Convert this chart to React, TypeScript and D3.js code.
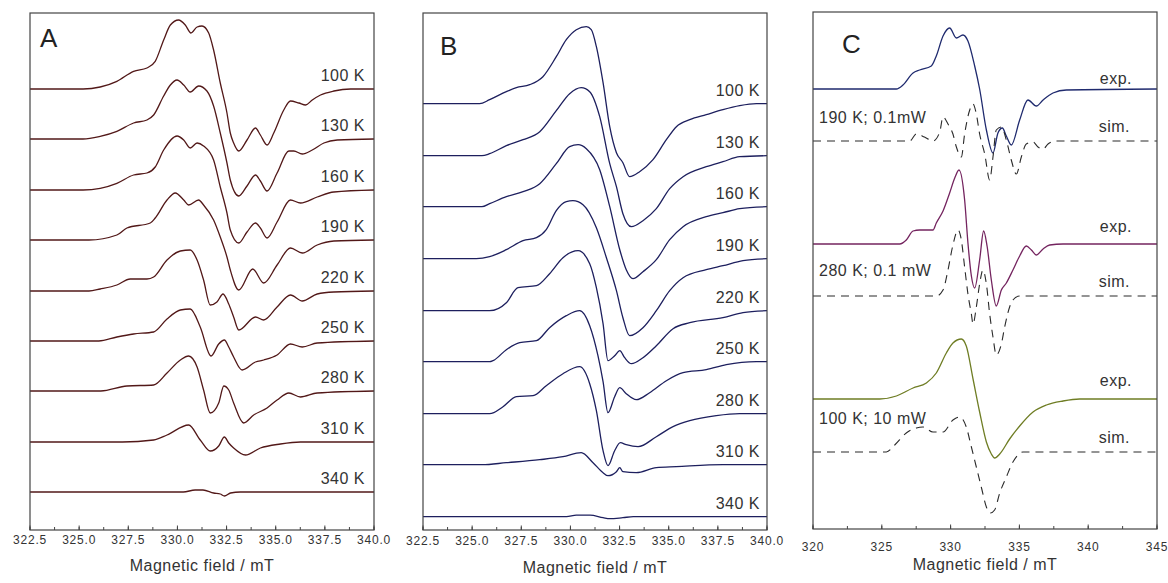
import React from "react";
import * as d3 from "d3";

type Pt = [number, number];

// x: magnetic field (mT), y: derivative amplitude relative to baseline (a.u.)

// ---- panel A ----
const tempsA = ["100 K", "130 K", "160 K", "190 K", "220 K", "250 K", "280 K", "310 K", "340 K"];
const offsetsA = [403, 353, 302, 252, 201, 151, 101, 50, 0];

const a100: Pt[] = [[322.5,0],[325.2,0],[326.07,2],[326.92,7.7],[327.77,17.7],[328.45,21],[328.87,27.7],[329.3,49],[329.64,64],[330.06,69],[330.4,64],[330.69,56],[331.0,62],[331.25,63],[331.59,56],[331.84,39],[332.18,6],[332.52,-24],[332.69,-44],[332.86,-54],[333.12,-62],[333.54,-51],[333.97,-39],[334.22,-46],[334.56,-56],[334.9,-44],[335.41,-21],[335.75,-12],[336.18,-14],[336.52,-16],[336.86,-11],[337.28,-6],[337.96,-2],[338.81,0],[340,0]];
const a130: Pt[] = [[322.5,0],[325.2,0],[326.07,2.7],[326.92,7.7],[327.77,16],[328.45,19],[328.79,24],[329.3,43],[329.64,54],[329.98,59],[330.32,54],[330.65,47],[331.08,53],[331.5,48],[331.84,33],[332.18,6],[332.52,-24],[332.69,-41],[333.12,-57],[333.54,-47],[333.97,-36],[334.22,-42],[334.56,-52],[335.07,-34],[335.67,-12],[335.92,-12],[336.35,-15],[336.86,-11],[337.45,-4],[338.13,-1],[340,0]];
const a160: Pt[] = [[322.5,0],[325.2,0],[326.07,1.7],[326.92,6.7],[327.77,15],[328.45,17],[328.87,23],[329.3,40],[329.98,54],[330.32,50],[330.65,42],[331.0,47],[331.33,44],[331.84,30],[332.18,3],[332.52,-23],[332.69,-40],[333.12,-53],[333.54,-42],[333.97,-33],[334.22,-38],[334.56,-48],[335.07,-32],[335.75,-10],[336.26,-13],[337.11,-7],[337.96,-2],[340,0]];
const a190: Pt[] = [[322.5,0],[325.5,0],[326.92,5],[327.43,12],[328.62,17],[328.87,22],[329.47,40],[329.89,47],[330.32,40],[330.57,35],[331.08,40],[331.33,35],[331.84,20],[332.18,3],[332.52,-17],[332.69,-30],[333.12,-50],[333.83,-29],[334.39,-43],[335.07,-25],[335.75,-8],[336.35,-13],[337.11,-5],[337.96,-1],[340,0]];
const a220: Pt[] = [[322.5,0],[325.5,0],[326.07,2],[326.92,6],[327.6,12],[328.45,12],[328.79,14],[329.47,31],[330.15,40],[330.65,41],[331.0,31],[331.33,11],[331.67,-14],[332.01,-11],[332.32,-3],[332.61,-13],[332.86,-26],[333.12,-39],[333.97,-26],[334.39,-29],[335.07,-16],[335.75,-4],[336.35,-10],[337.11,-3],[337.96,-1],[340,0]];
const a250: Pt[] = [[322.5,0],[326.0,0],[326.92,4],[327.77,7],[328.79,9],[329.47,22],[330.15,31],[330.65,32],[331.16,14],[331.71,-15],[332.1,-3],[332.39,1],[332.61,-6],[332.86,-16],[333.29,-29],[333.97,-21],[334.39,-19],[335.07,-14],[335.75,-3],[336.35,-6],[337.11,-2],[340,0]];
const a280: Pt[] = [[322.5,0],[326.1,0],[327.43,5],[328.79,6],[329.47,18],[330.15,31],[330.57,35],[331.0,24],[331.33,1],[331.67,-22],[332.1,-12],[332.36,5],[332.61,1],[332.86,-12],[333.37,-32],[333.88,-24],[334.56,-17],[335.07,-9],[335.67,-2],[336.26,-6],[337.11,-2],[340,0]];
const a310: Pt[] = [[322.5,0],[327.2,0],[328.79,2],[329.47,7],[330.57,17],[331.16,2],[331.67,-9],[332.1,-4],[332.39,5],[332.61,-1],[332.86,-6],[333.46,-13],[334.22,-6],[335.24,-2],[336.26,0],[340,0]];
const a340: Pt[] = [[322.5,0],[330.3,0],[330.9,2],[331.3,2],[331.84,-1],[332.18,-2],[332.39,-4],[332.7,-1],[333.2,0],[340,0]];
const spectraA = [a100, a130, a160, a190, a220, a250, a280, a310, a340];

// ---- panel B ----
const tempsB = ["100 K", "130 K", "160 K", "190 K", "220 K", "250 K", "280 K", "310 K", "340 K"];
const offsetsB = [413, 361, 310, 258, 206, 155, 103, 52, 0];

const b100: Pt[] = [[322.5,0],[325.38,0],[325.89,4],[326.74,12],[327.25,16],[327.93,19],[328.6,27],[329.28,47],[329.79,64],[330.3,74],[330.81,77],[331.06,74],[331.32,57],[331.66,21],[332.0,-23],[332.34,-49],[332.67,-59],[333.01,-73],[333.52,-68],[334.2,-56],[334.88,-36],[335.39,-23],[336.07,-16],[336.91,-11],[337.76,-6],[338.61,-2],[339.46,0],[340,0]];
const b130: Pt[] = [[322.5,0],[325.5,0],[325.89,2],[326.74,10],[327.59,16],[328.44,24],[329.28,45],[329.96,62],[330.55,68],[330.98,64],[331.49,39],[332.0,-8],[332.34,-31],[332.67,-58],[333.1,-71],[333.69,-65],[334.37,-53],[335.05,-33],[335.73,-21],[336.91,-11],[337.76,-6],[338.61,-1],[340,0]];
const b160: Pt[] = [[322.5,0],[325.5,0],[325.89,3],[326.74,10],[327.59,15],[328.44,23],[329.28,43],[329.96,60],[330.39,62],[330.81,58],[331.49,37],[332.0,0],[332.51,-43],[332.84,-63],[333.18,-72],[333.69,-65],[334.37,-53],[335.05,-33],[335.73,-20],[336.91,-10],[337.76,-6],[338.61,-2],[340,0]];
const b190: Pt[] = [[322.5,0],[325.21,0],[325.89,2],[326.74,9],[327.59,18],[328.27,21],[328.77,29],[329.28,48],[329.79,57],[330.13,58],[330.64,54],[331.32,31],[331.83,1],[332.34,-32],[332.67,-59],[333.01,-77],[333.69,-69],[334.37,-52],[335.05,-32],[335.73,-19],[336.91,-11],[337.76,-7],[338.78,-2],[340,0]];
const b220: Pt[] = [[322.5,0],[325.89,0],[326.74,8],[327.33,23],[328.27,25],[328.94,37],[329.62,53],[330.39,60],[330.98,47],[331.32,23],[331.66,-13],[331.91,-50],[332.25,-45],[332.51,-40],[332.76,-47],[333.1,-53],[333.69,-47],[334.37,-35],[335.22,-18],[336.07,-12],[337.76,-7],[338.78,-2],[340,0]];
const b250: Pt[] = [[322.5,0],[325.89,0],[326.06,1],[326.74,12],[327.42,19],[328.27,21],[328.94,34],[329.79,46],[330.47,51],[330.98,36],[331.4,6],[331.66,-20],[331.91,-51],[332.25,-35],[332.51,-26],[332.84,-32],[333.35,-38],[334.03,-31],[334.88,-19],[335.73,-11],[336.91,-8],[337.93,-3],[339.46,0],[340,0]];
const b280: Pt[] = [[322.5,0],[325.89,0],[326.57,7],[327.25,17],[328.1,18],[328.77,28],[329.62,40],[330.47,47],[330.98,30],[331.32,3],[331.66,-37],[331.91,-52],[332.25,-37],[332.54,-29],[332.84,-31],[333.44,-33],[334.37,-23],[335.22,-13],[336.07,-7],[337.42,-2],[338.61,0],[340,0]];
const b310: Pt[] = [[322.5,0],[325.5,0],[326.74,2],[328.44,5],[329.62,8],[330.55,12],[331.15,2],[331.66,-8],[331.91,-11],[332.34,-7],[332.51,-3],[332.67,-7],[333.35,-8],[334.37,-3],[335.39,-2],[337.76,0],[340,0]];
const b340: Pt[] = [[322.5,0],[329.8,0],[330.3,1.5],[331.0,1.5],[331.66,-1],[332.0,-2],[332.67,-1],[333.2,0],[340,0]];
const spectraB = [b100, b130, b160, b190, b220, b250, b280, b310, b340];

// ---- panel C ----
const conditionsC = ["190 K; 0.1mW", "280 K; 0.1 mW", "100 K; 10 mW"];
const offsetsExpC = [363, 208, 53];
const offsetsSimC = [311, 156, 0];

const exp190: Pt[] = [[320,0],[326.06,0],[326.54,4],[327.27,16],[327.75,19],[328.6,23],[328.96,33],[329.45,53],[329.93,61],[330.42,51],[330.9,54],[331.26,48],[331.75,23],[332.11,0],[332.6,-41],[333.08,-64],[333.44,-44],[333.76,-39],[334.05,-47],[334.41,-56],[335.02,-31],[335.62,-11],[336.23,-17],[336.72,-11],[337.44,-4],[338.41,-1],[345,0]];
const sim190: Pt[] = [[320,0],[327.03,0],[327.51,7],[328.1,4],[328.72,0],[329.21,9],[329.45,24],[329.81,17],[330.17,7],[330.42,-6],[330.78,-16],[331.02,7],[331.39,31],[331.63,37],[331.87,27],[332.11,7],[332.48,-13],[332.84,-39],[333.08,-16],[333.32,11],[333.69,14],[334.05,1],[334.41,-19],[334.78,-33],[335.14,-16],[335.5,-3],[335.99,-1],[336.35,-6],[336.72,-8],[337.08,-3],[337.68,0],[345,0]];
const exp280: Pt[] = [[320,0],[326.3,0],[326.78,4],[327.27,13],[327.75,14],[328.72,14],[328.96,21],[329.45,33],[329.93,51],[330.3,66],[330.61,74],[331.02,44],[331.26,1],[331.51,-32],[331.75,-44],[332.11,-16],[332.4,13],[332.65,-2],[332.96,-36],[333.32,-62],[333.69,-46],[334.05,-39],[334.53,-26],[335.02,-12],[335.5,-2],[335.87,-6],[336.23,-11],[336.72,-5],[337.2,-1],[338.17,0],[345,0]];
const sim280: Pt[] = [[320,0],[328.96,0],[329.45,6],[329.81,26],[330.17,51],[330.54,66],[330.78,56],[331.02,29],[331.26,2],[331.51,-18],[331.63,-28],[331.87,-11],[332.11,12],[332.35,26],[332.6,12],[332.84,-18],[333.08,-41],[333.32,-59],[333.69,-48],[333.93,-31],[334.29,-11],[334.53,-4],[335.02,0],[345,0]];
const exp100: Pt[] = [[320,0],[324.85,0],[326.06,3],[327.27,11],[328.24,16],[328.96,26],[329.69,46],[330.17,56],[330.78,60],[331.14,53],[331.63,20],[332.11,-13],[332.6,-43],[332.96,-55],[333.2,-59],[333.57,-55],[334.29,-40],[335.02,-27],[335.99,-13],[336.96,-6],[338.17,-2],[339.38,0],[345,0]];
const sim100: Pt[] = [[320,0],[325.33,0],[325.94,7],[326.78,19],[327.51,24],[327.99,25],[328.72,20],[329.45,20],[330.17,32],[330.66,35],[331.14,25],[331.51,5],[331.87,-15],[332.23,-35],[332.6,-55],[332.89,-61],[333.2,-58],[333.57,-41],[334.05,-25],[334.53,-10],[334.9,-3],[335.26,0],[345,0]];
const expC = [exp190, exp280, exp100];
const simC = [sim190, sim280, sim100];

const ticksAB = [322.5, 325.0, 327.5, 330.0, 332.5, 335.0, 337.5, 340.0];
const ticksC = [320, 325, 330, 335, 340, 345];

const FONT = "'Liberation Sans', Arial, Helvetica, sans-serif";
const INK = "#333";
const expColors = ["#1f2a6e", "#74245f", "#6f7d24"];

type Trace = { data: Pt[]; offset: number; color: string; dash?: string };
type TextItem = { text: string; x: number; y: number; anchor: "start" | "end" };

function Panel(props: {
  left: number; right: number; top: number; bottom: number;
  xDomain: [number, number]; yDomain: [number, number];
  majors: number[]; minorStep: number; fmt: (v: number) => string;
  tickY: number; titleY: number;
  letter: string; letterX: number; letterY: number;
  traces: Trace[]; labels: (y: d3.ScaleLinear<number, number>) => TextItem[];
}) {
  const { left, right, top, bottom } = props;
  const x = d3.scaleLinear().domain(props.xDomain).range([left, right]);
  const y = d3.scaleLinear().domain(props.yDomain).range([bottom, top]);
  const minors = d3.range(props.xDomain[0], props.xDomain[1] + 1e-6, props.minorStep);
  const labels = props.labels(y);
  return (
    <g>
      {props.traces.map((t, i) => {
        const line = d3
          .line<Pt>()
          .x((d) => x(d[0]))
          .y((d) => y(d[1] + t.offset))
          .curve(d3.curveMonotoneX);
        return (
          <path key={i} d={line(t.data) || ""} fill="none" stroke={t.color}
            strokeWidth={t.dash ? 1.1 : 1.3} strokeDasharray={t.dash} strokeLinejoin="round" />
        );
      })}
      <rect x={left} y={top} width={right - left} height={bottom - top} fill="none" stroke="#444" strokeWidth={1.2} />
      {minors.map((v, i) => (
        <line key={"m" + i} x1={x(v)} x2={x(v)} y1={bottom} y2={bottom - 3} stroke="#444" />
      ))}
      {props.majors.map((v, i) => (
        <g key={"t" + i}>
          <line x1={x(v)} x2={x(v)} y1={bottom} y2={bottom - 4.5} stroke="#444" />
          <text x={x(v)} y={props.tickY} textAnchor="middle" fontSize={12} letterSpacing={0.8} fill={INK} fontFamily={FONT}>
            {props.fmt(v)}
          </text>
        </g>
      ))}
      <text x={(left + right) / 2} y={props.titleY} textAnchor="middle" fontSize={16} letterSpacing={0.5} fill={INK} fontFamily={FONT}>
        Magnetic field / mT
      </text>
      <text x={props.letterX} y={props.letterY} fontSize={26} fill="#222" fontFamily={FONT}>
        {props.letter}
      </text>
      {labels.map((l, i) => (
        <text key={"l" + i} x={l.x} y={l.y} textAnchor={l.anchor} fontSize={16} letterSpacing={0.5} fill={INK} fontFamily={FONT}>
          {l.text}
        </text>
      ))}
    </g>
  );
}

export default function App() {
  const expDy = [5, 12, 13];
  const condDy = [18, 20, 28];
  return (
    <svg width={1168} height={583} style={{ position: "absolute", left: 0, top: 0, background: "#fff" }}>
      <Panel
        left={30} right={374} top={13} bottom={530}
        xDomain={[322.5, 340]} yDomain={[-38, 479]}
        majors={ticksAB} minorStep={1.25} fmt={(v) => v.toFixed(1)}
        tickY={544} titleY={571} letter="A" letterX={40} letterY={47}
        traces={spectraA.map((d, i) => ({ data: d, offset: offsetsA[i], color: "#521818" }))}
        labels={(y) => tempsA.map((t, i) => ({ text: t, x: 365, y: y(offsetsA[i]) - 8, anchor: "end" }))}
      />
      <Panel
        left={423} right={767} top={13} bottom={530}
        xDomain={[322.5, 340]} yDomain={[-13.3, 503.7]}
        majors={ticksAB} minorStep={1.25} fmt={(v) => v.toFixed(1)}
        tickY={545} titleY={573} letter="B" letterX={440} letterY={55}
        traces={spectraB.map((d, i) => ({ data: d, offset: offsetsB[i], color: "#1d1f5e" }))}
        labels={(y) => tempsB.map((t, i) => ({ text: t, x: 760, y: y(offsetsB[i]) - 8, anchor: "end" }))}
      />
      <Panel
        left={813} right={1157} top={12} bottom={529}
        xDomain={[320, 345]} yDomain={[-77, 440]}
        majors={ticksC} minorStep={2.5} fmt={(v) => String(v)}
        tickY={551} titleY={570} letter="C" letterX={842} letterY={53}
        traces={[
          ...expC.map((d, i) => ({ data: d, offset: offsetsExpC[i], color: expColors[i] })),
          ...simC.map((d, i) => ({ data: d, offset: offsetsSimC[i], color: "#2a2a2a", dash: "8,6" })),
        ]}
        labels={(y) => [
          ...conditionsC.map((t, i) => ({ text: "exp.", x: 1132, y: y(offsetsExpC[i]) - expDy[i], anchor: "end" as const })),
          ...conditionsC.map((t, i) => ({ text: "sim.", x: 1130, y: y(offsetsSimC[i]) - 9, anchor: "end" as const })),
          ...conditionsC.map((t, i) => ({ text: t, x: 819, y: y(offsetsSimC[i]) - condDy[i], anchor: "start" as const })),
        ]}
      />
    </svg>
  );
}
